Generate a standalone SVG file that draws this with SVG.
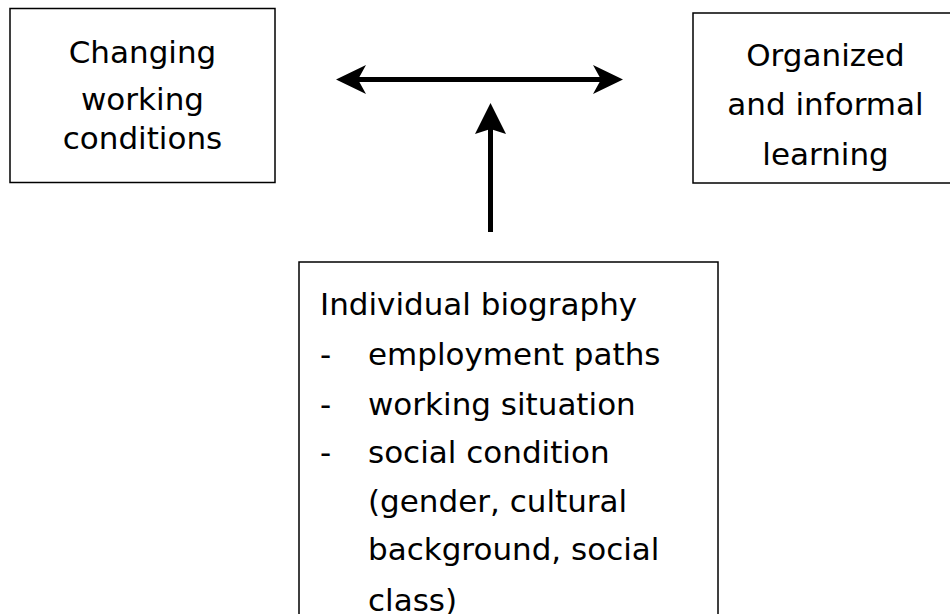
<svg xmlns="http://www.w3.org/2000/svg" width="950" height="614" viewBox="0 0 950 614">
  <style>
    .box { fill: #ffffff; stroke: #000000; stroke-width: 1.5; }
    .lbl { font-family: "DejaVu Sans", "Verdana", sans-serif; font-size: 31px; fill: #000000; }
    .mid { text-anchor: middle; }
    .line { stroke: #000000; stroke-width: 5; fill: none; }
    .head { fill: #000000; stroke: none; }
  </style>
  <rect x="0" y="0" width="950" height="614" fill="#ffffff"/>
  <g id="node-changing">
    <rect class="box" x="10" y="8.5" width="265" height="174"/>
    <text class="lbl mid" x="142.5" y="63">Changing</text>
    <text class="lbl mid" x="142.5" y="110">working</text>
    <text class="lbl mid" x="142.5" y="149">conditions</text>
  </g>
  <g id="node-learning">
    <rect class="box" x="693" y="13" width="270" height="170"/>
    <text class="lbl mid" x="825.5" y="66">Organized</text>
    <text class="lbl mid" x="825.5" y="115">and informal</text>
    <text class="lbl mid" x="825.5" y="165">learning</text>
  </g>
  <g id="node-biography">
    <rect class="box" x="299" y="262" width="419" height="360"/>
    <text class="lbl" x="320" y="315">Individual biography</text>
    <text class="lbl" x="320" y="365">-</text>
    <text class="lbl" x="368" y="365">employment paths</text>
    <text class="lbl" x="320" y="415">-</text>
    <text class="lbl" x="368" y="415">working situation</text>
    <text class="lbl" x="320" y="463">-</text>
    <text class="lbl" x="368" y="463">social condition</text>
    <text class="lbl" x="368" y="512">(gender, cultural</text>
    <text class="lbl" x="368" y="560">background, social</text>
    <text class="lbl" x="368" y="611">class)</text>
  </g>
  <g id="connectors">
    <line class="line" x1="355" y1="79.5" x2="604" y2="79.5"/>
    <path class="head" d="M336,79.5 L366,65 L358,79.5 L366,94 Z"/>
    <path class="head" d="M623,79.5 L593,65 L601,79.5 L593,94 Z"/>
    <line class="line" x1="490.5" y1="232" x2="490.5" y2="124"/>
    <path class="head" d="M490.5,103 L506,134 L490.5,129 L475,134 Z"/>
  </g>
</svg>
